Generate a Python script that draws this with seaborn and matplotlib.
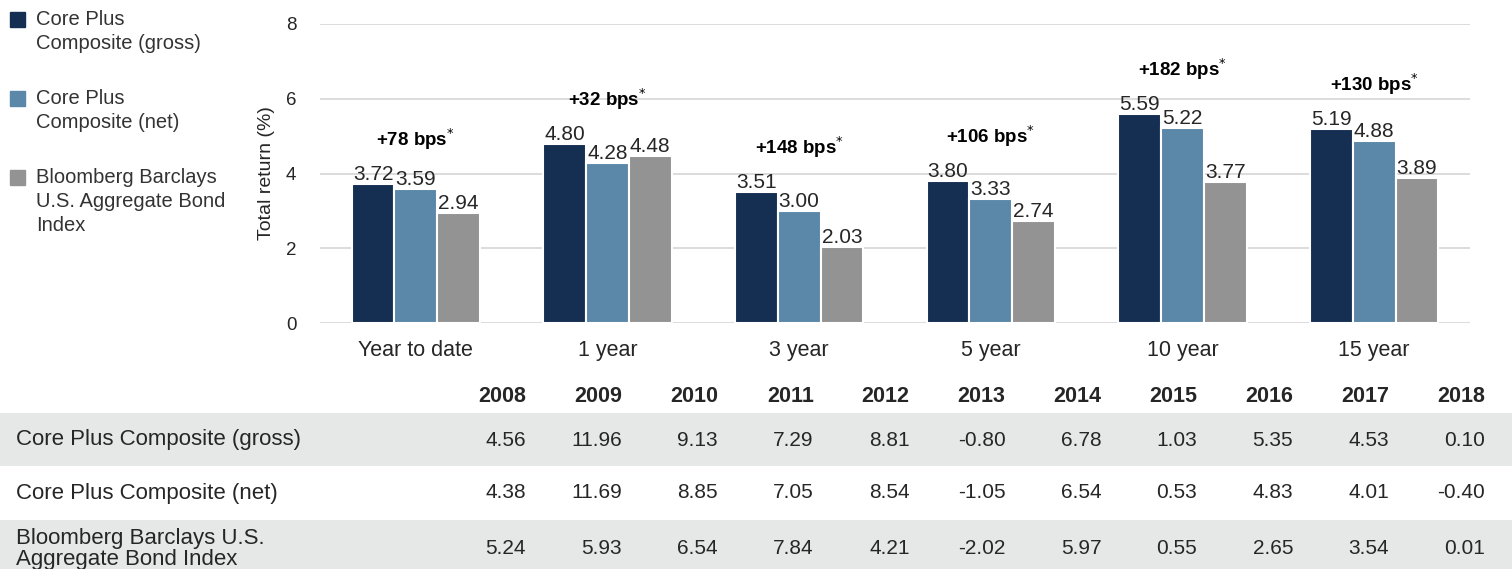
import matplotlib
matplotlib.use("Agg")
import matplotlib.pyplot as plt
from matplotlib.patches import Rectangle
import numpy as np
import pandas as pd
import seaborn as sns

PERIODS = ["Year to date", "1 year", "3 year", "5 year", "10 year", "15 year"]
SERIES = ["Core Plus Composite (gross)", "Core Plus Composite (net)",
          "Bloomberg Barclays U.S. Aggregate Bond Index"]
LEGEND_LABELS = ["Core Plus\nComposite (gross)", "Core Plus\nComposite (net)",
                 "Bloomberg Barclays\nU.S. Aggregate Bond\nIndex"]
GROSS = [3.72, 4.80, 3.51, 3.80, 5.59, 5.19]
NET = [3.59, 4.28, 3.00, 3.33, 5.22, 4.88]
INDEX = [2.94, 4.48, 2.03, 2.74, 3.77, 3.89]

YEARS = ["2008", "2009", "2010", "2011", "2012", "2013", "2014", "2015", "2016", "2017", "2018"]
TABLE_LABELS = ["Core Plus Composite (gross)", "Core Plus Composite (net)",
                "Bloomberg Barclays U.S.\nAggregate Bond Index"]
ANNUAL_GROSS = [4.56, 11.96, 9.13, 7.29, 8.81, -0.80, 6.78, 1.03, 5.35, 4.53, 0.10]
ANNUAL_NET = [4.38, 11.69, 8.85, 7.05, 8.54, -1.05, 6.54, 0.53, 4.83, 4.01, -0.40]
ANNUAL_INDEX = [5.24, 5.93, 6.54, 7.84, 4.21, -2.02, 5.97, 0.55, 2.65, 3.54, 0.01]

COLORS = ["#142f52", "#5b87a8", "#939393"]
BAND = "#e5e8e7"
TEXT = "#262626"

sns.set_style("white")
plt.rcParams["font.family"] = ["Liberation Sans", "DejaVu Sans"]

df = pd.DataFrame({
    "period": PERIODS * 3,
    "series": [s for s in SERIES for _ in PERIODS],
    "value": GROSS + NET + INDEX,
})

W, H = 1512, 569
fig = plt.figure(figsize=(W / 100, H / 100), dpi=100)
ax = fig.add_axes([320 / W, 1 - 323 / H, 1150 / W, 299 / H])

sns.barplot(data=df, x="period", y="value", hue="series", order=PERIODS,
            hue_order=SERIES, palette=COLORS, width=0.67, edgecolor="white",
            linewidth=1.5, saturation=1, legend=False, ax=ax, zorder=3)
for cont in ax.containers:
    ax.bar_label(cont, fmt="%.2f", fontsize=15, color=TEXT, padding=0)

# spread annotations above each group
for i, (g, b) in enumerate(zip(GROSS, INDEX)):
    bps = int(round((g - b) * 100))
    top = max(GROSS[i], NET[i], INDEX[i])
    ax.text(i, top + 1.2, f"+{bps} bps" + r"$^{*}$", ha="center", va="center",
            fontsize=13.5, fontweight="bold", color="black")

ax.set_ylim(0, 8)
ax.set_xlim(-0.5, 5.5)
ax.set_yticks([0, 2, 4, 6, 8])
ax.grid(axis="y", color="#d9d9d9", linewidth=1.3, zorder=0)
ax.set_axisbelow(True)
sns.despine(ax=ax, left=True, bottom=True)
ax.tick_params(axis="both", length=0, colors=TEXT)
ax.tick_params(axis="y", labelsize=13.5, pad=17)
ax.tick_params(axis="x", labelsize=15.5, pad=12)
ax.set_xlabel("")
ax.set_ylabel("Total return (%)", fontsize=14, color=TEXT)
ax.yaxis.set_label_coords(-45 / 1150, 0.5)

# legend on the left
for k, (lab, col) in enumerate(zip(LEGEND_LABELS, COLORS)):
    top = 10 + k * 79
    fig.add_artist(Rectangle((10 / W, 1 - (top + 17) / H), 15 / W, 15 / H,
                             transform=fig.transFigure, color=col))
    fig.text(36 / W, 1 - top / H, lab, ha="left", va="top", fontsize=14.5,
             color="#333333", linespacing=1.32)

# table of calendar-year returns
tx = fig.add_axes([0, 0, 1, 194 / H])
tx.set_xlim(0, W)
tx.set_ylim(H, 375)
tx.axis("off")
tx.axhspan(413, 466, color=BAND, lw=0)
tx.axhspan(520, H, color=BAND, lw=0)
col_right = [526 + j * 95.9 for j in range(len(YEARS))]
for x, yr in zip(col_right, YEARS):
    tx.text(x, 397, yr, ha="right", va="center", fontsize=15.5,
            fontweight="bold", color=TEXT)
rows = [ANNUAL_GROSS, ANNUAL_NET, ANNUAL_INDEX]
row_y = [440, 493, 549]
for lab, vals, y in zip(TABLE_LABELS, rows, row_y):
    tx.text(16, y, lab, ha="left", va="center", fontsize=16, color=TEXT,
            linespacing=1.05)
    for x, v in zip(col_right, vals):
        tx.text(x, y, f"{v:.2f}", ha="right", va="center", fontsize=15,
                color=TEXT)

fig.savefig("out.png", dpi=100)
